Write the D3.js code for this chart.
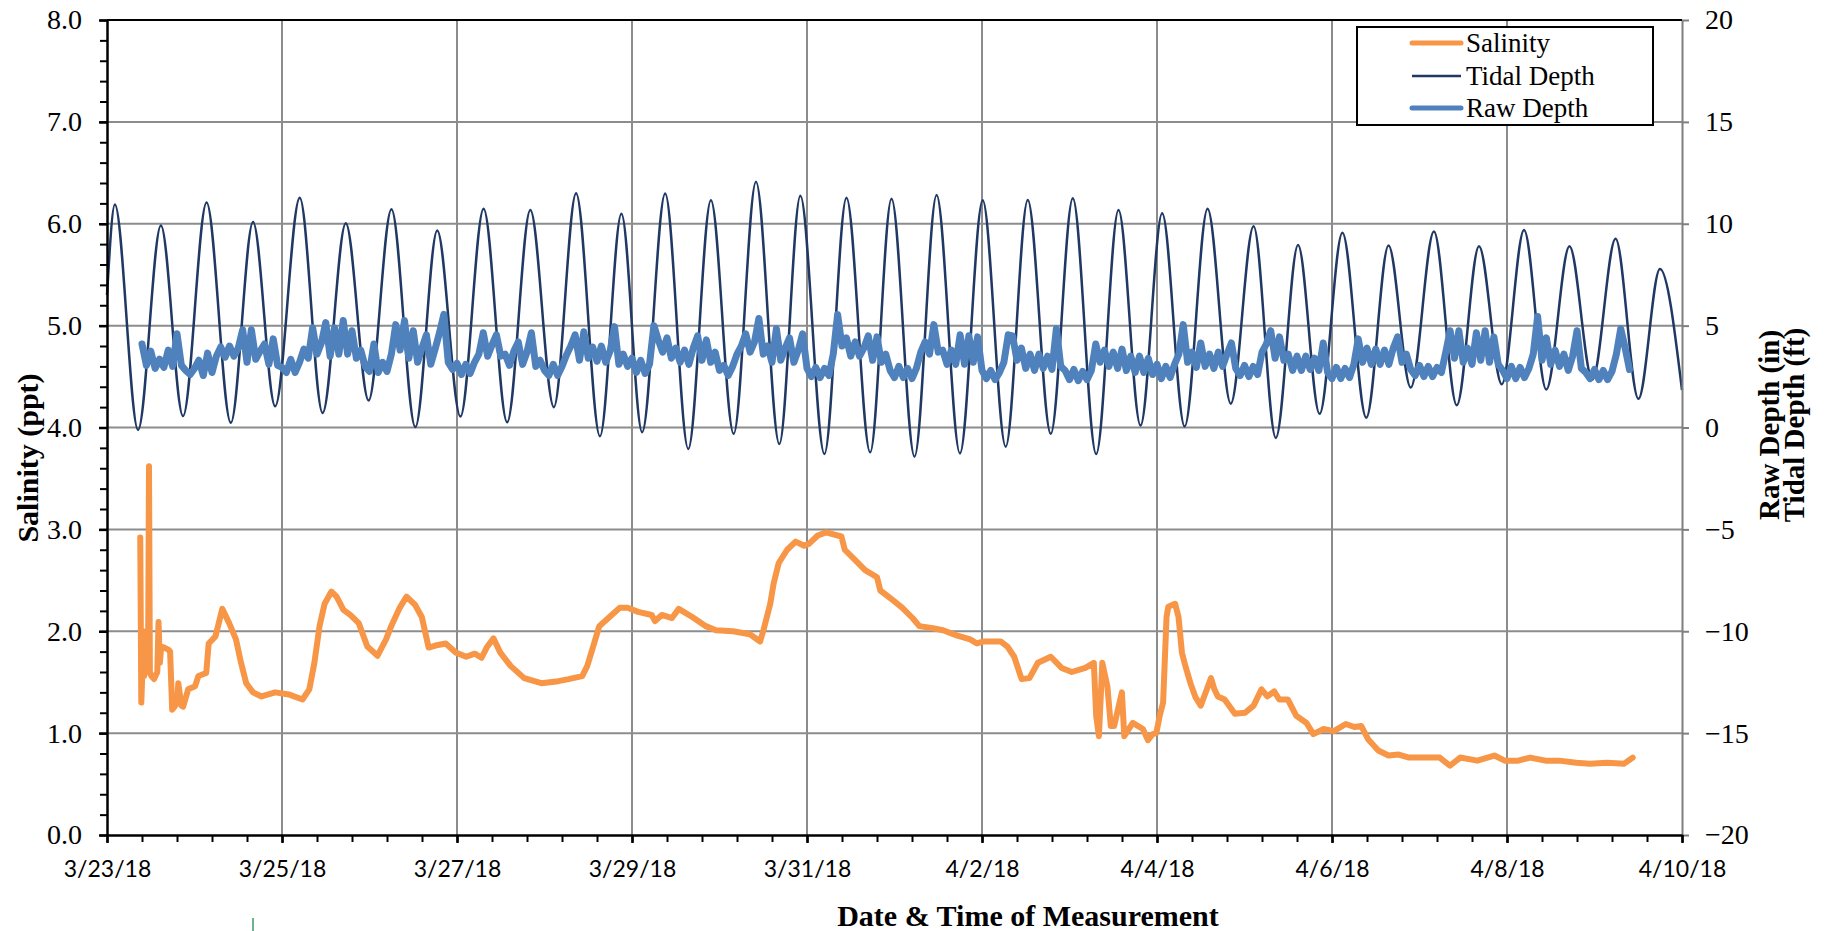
<!DOCTYPE html>
<html><head><meta charset="utf-8">
<script src="https://cdn.jsdelivr.net/npm/d3@7"></script>
<style>body{margin:0;background:#fff;} svg{display:block;}</style>
</head><body>
<svg id="chart" width="1827" height="931"></svg>
<script>
// ---------------- DATA ----------------
// times are in days since 3/23/18 00:00
const xTickDays = [0,2,4,6,8,10,12,14,16,18];
const xTickLabels = ["3/23/18","3/25/18","3/27/18","3/29/18","3/31/18","4/2/18","4/4/18","4/6/18","4/8/18","4/10/18"];
const yLeftTicks = [0,1,2,3,4,5,6,7,8];
const yRightTicks = [-20,-15,-10,-5,0,5,10,15,20];
const seriesNames = ["Salinity","Tidal Depth","Raw Depth"];

// Tidal depth (ft): highs and lows
const tideDays = [0,0.09,0.355,0.616,0.869,1.138,1.415,1.669,1.922,2.203,2.464,2.729,2.990,3.251,3.524,3.774,4.039,4.304,4.573,4.838,5.107,5.361,5.634,5.879,6.116,6.379,6.643,6.902,7.162,7.417,7.684,7.924,8.199,8.451,8.722,8.966,9.229,9.481,9.748,10.008,10.271,10.523,10.786,11.038,11.305,11.560,11.812,12.059,12.316,12.578,12.843,13.104,13.358,13.612,13.858,14.119,14.392,14.646,14.900,15.165,15.426,15.680,15.941,16.195,16.449,16.714,16.976,17.241,17.502,17.748,18.0];
const tideFt = [6.5,10.95,-0.12,9.92,0.56,11.04,0.23,10.08,1.04,11.27,0.71,10.02,1.33,10.71,0.02,9.67,0.54,10.74,0.26,10.67,1.0,11.5,-0.43,10.49,-0.23,11.48,-1.05,11.15,-0.31,12.06,-0.81,11.37,-1.30,11.28,-1.22,11.23,-1.43,11.41,-1.27,11.15,-0.94,11.17,-0.31,11.25,-1.30,10.67,0.10,10.51,0.05,10.74,1.17,9.88,-0.51,8.96,0.67,9.56,0.48,8.93,1.96,9.62,1.09,8.90,2.12,9.69,1.86,8.90,2.35,9.26,1.41,7.78,1.83];

// Raw depth (in): one reading every 0.05 day from day 0.40
const rawStartDay = 0.40;
const rawStepDay = 0.05;
const rawDepthIn = [
 4.10,3.05,3.75,2.90,3.35,2.95,3.80,3.00,4.60,3.05,2.80,2.60,2.90,3.30,2.55,3.65,2.70,3.50,3.95,3.45,
 4.00,3.50,3.90,4.80,3.20,4.80,3.35,3.75,4.10,3.10,4.35,3.05,2.95,2.70,3.35,2.70,3.20,3.85,3.40,4.90,
 3.60,4.15,5.15,3.50,4.90,3.60,5.25,3.60,4.75,3.40,3.80,3.00,2.75,4.10,2.70,3.20,2.75,3.60,5.05,3.80,
 5.25,3.40,4.75,3.20,3.90,4.55,3.10,3.85,4.65,5.55,3.20,2.85,3.15,2.60,3.10,2.65,3.20,3.60,4.65,3.50,
 4.05,4.55,3.50,3.60,3.05,3.75,4.20,3.10,3.70,4.65,3.00,3.30,2.80,2.55,3.10,2.55,3.00,3.55,4.00,4.55,
 3.30,4.70,3.40,3.95,3.25,4.00,3.20,3.75,4.95,3.10,3.60,3.00,3.40,2.70,3.30,2.65,3.10,5.00,4.30,3.70,
 4.40,3.40,3.90,3.20,3.80,3.10,3.90,4.50,3.30,4.30,3.20,3.70,2.80,3.05,2.55,3.00,3.60,4.00,4.60,3.70,
 4.20,5.35,3.60,4.00,3.20,4.85,3.30,3.90,4.40,3.20,3.80,4.60,2.90,2.50,2.95,2.45,2.90,2.55,3.60,5.55,
 4.00,4.40,3.50,4.20,3.50,3.90,4.50,3.30,4.45,3.20,3.60,2.80,2.45,3.00,2.45,2.90,2.40,2.90,3.70,4.20,
 3.60,5.05,3.70,3.80,3.10,3.80,3.10,4.55,3.10,4.50,3.20,4.45,2.80,2.40,2.80,2.35,2.70,3.20,4.55,4.50,
 3.30,3.90,2.90,3.60,2.80,3.60,2.90,3.50,2.85,4.85,3.00,2.80,2.35,2.85,2.30,2.75,2.35,2.80,4.10,3.20,
 3.80,3.00,3.70,2.90,3.85,2.80,3.50,2.70,3.50,2.70,3.40,2.60,3.10,2.40,3.00,2.45,3.10,3.60,5.05,3.20,
 3.70,2.95,4.15,3.00,3.60,2.90,3.70,3.00,3.60,4.15,2.90,2.55,3.05,2.50,3.00,2.60,3.70,4.10,4.75,3.40,
 4.45,3.30,3.60,2.80,3.50,2.80,3.50,2.85,3.40,2.80,4.15,2.70,2.40,2.95,2.40,2.90,2.45,3.10,4.35,3.20,
 3.90,3.10,3.85,3.10,3.80,3.10,3.90,4.45,3.20,3.60,2.85,2.55,3.05,2.50,3.00,2.50,2.95,2.70,3.70,4.75,
 3.40,4.75,3.20,3.90,3.10,4.65,3.30,4.75,3.20,4.45,3.10,2.80,2.40,3.00,2.40,2.95,2.45,2.90,3.60,5.45,
 3.30,4.40,3.10,3.80,3.00,3.60,2.80,3.50,4.75,2.90,2.70,2.40,2.85,2.35,2.80,2.35,2.75,3.60,4.85,3.90,
 2.85
];

// Salinity (ppt): [day, value]
const salinityPoints = [[0.380,2.92],[0.392,1.30],[0.405,1.62],[0.413,2.00],[0.425,1.56],[0.440,1.62],[0.470,1.80],[0.480,3.62],[0.490,1.60],[0.507,1.56],[0.538,1.53],[0.575,1.60],[0.589,2.09],[0.604,1.69],[0.620,1.85],[0.655,1.84],[0.700,1.82],[0.721,1.80],[0.745,1.23],[0.772,1.26],[0.800,1.30],[0.815,1.49],[0.850,1.27],[0.870,1.26],[0.928,1.43],[1.006,1.46],[1.045,1.56],[1.134,1.59],[1.162,1.88],[1.240,1.95],[1.318,2.22],[1.396,2.08],[1.474,1.92],[1.532,1.69],[1.591,1.49],[1.669,1.40],[1.766,1.36],[1.922,1.40],[2.078,1.38],[2.234,1.33],[2.312,1.43],[2.370,1.69],[2.429,2.05],[2.487,2.27],[2.565,2.39],[2.624,2.34],[2.702,2.21],[2.780,2.16],[2.877,2.08],[2.975,1.85],[3.092,1.76],[3.189,1.92],[3.248,2.05],[3.345,2.23],[3.423,2.34],[3.520,2.26],[3.598,2.14],[3.676,1.84],[3.754,1.86],[3.871,1.88],[3.988,1.79],[4.105,1.75],[4.203,1.78],[4.281,1.74],[4.339,1.84],[4.417,1.93],[4.495,1.79],[4.612,1.66],[4.768,1.54],[4.963,1.49],[5.158,1.51],[5.275,1.53],[5.431,1.56],[5.489,1.66],[5.567,1.88],[5.626,2.05],[5.743,2.14],[5.860,2.23],[5.950,2.23],[6.070,2.19],[6.225,2.16],[6.263,2.10],[6.341,2.16],[6.457,2.13],[6.534,2.22],[6.689,2.14],[6.844,2.05],[6.960,2.01],[7.154,2.00],[7.348,1.97],[7.464,1.90],[7.502,2.01],[7.580,2.27],[7.619,2.47],[7.677,2.67],[7.773,2.80],[7.870,2.88],[7.967,2.84],[8.025,2.86],[8.122,2.94],[8.219,2.97],[8.393,2.93],[8.432,2.80],[8.548,2.70],[8.664,2.60],[8.800,2.53],[8.838,2.40],[8.974,2.31],[9.090,2.23],[9.206,2.13],[9.284,2.05],[9.439,2.03],[9.555,2.01],[9.710,1.96],[9.865,1.92],[9.942,1.88],[10.019,1.90],[10.213,1.90],[10.290,1.85],[10.368,1.75],[10.453,1.53],[10.542,1.54],[10.639,1.69],[10.786,1.75],[10.910,1.64],[11.026,1.60],[11.181,1.64],[11.278,1.69],[11.305,1.17],[11.336,0.97],[11.375,1.69],[11.433,1.46],[11.472,1.07],[11.510,1.07],[11.599,1.40],[11.626,0.97],[11.723,1.10],[11.839,1.04],[11.897,0.93],[11.950,0.99],[11.992,1.00],[12.031,1.17],[12.070,1.30],[12.109,2.14],[12.129,2.24],[12.207,2.27],[12.246,2.14],[12.285,1.79],[12.324,1.66],[12.382,1.49],[12.441,1.35],[12.500,1.27],[12.539,1.36],[12.617,1.54],[12.656,1.43],[12.695,1.36],[12.773,1.33],[12.890,1.19],[13.007,1.20],[13.104,1.27],[13.194,1.43],[13.261,1.36],[13.339,1.41],[13.397,1.33],[13.495,1.33],[13.592,1.17],[13.709,1.10],[13.787,0.99],[13.904,1.04],[14.021,1.02],[14.158,1.09],[14.256,1.06],[14.334,1.07],[14.412,0.94],[14.529,0.83],[14.646,0.78],[14.763,0.79],[14.880,0.76],[15.036,0.76],[15.231,0.76],[15.348,0.68],[15.465,0.76],[15.660,0.73],[15.856,0.78],[15.973,0.73],[16.129,0.73],[16.265,0.76],[16.441,0.73],[16.597,0.73],[16.792,0.71],[16.948,0.70],[17.143,0.71],[17.339,0.70],[17.436,0.76]];

// ---------------- CHART ----------------
const X0 = 107, X1 = 1682, Y0 = 20, Y1 = 835;
const t0 = Date.UTC(2018, 2, 23);
const dayToDate = d => new Date(t0 + d * 86400000);
const x = d3.scaleUtc().domain([dayToDate(0), dayToDate(18)]).range([X0, X1]);
const yL = d3.scaleLinear().domain([0, 8]).range([Y1, Y0]);
const yR = d3.scaleLinear().domain([-20, 20]).range([Y1, Y0]);

const COL_SAL = "#f79646", COL_TIDE = "#1f3864", COL_RAW = "#4f81bd", COL_GRID = "#8c8c8c";
const SERIF = "'Liberation Serif','Times New Roman',serif";
const SANS = "Lato,'Open Sans',sans-serif";

const svg = d3.select("#chart");
svg.append("rect").attr("width", 1827).attr("height", 931).attr("fill", "#fff");

// gridlines
const grid = svg.append("g");
grid.selectAll("line.h").data(yLeftTicks.filter(v => v > 0 && v < 8)).join("line")
  .attr("x1", X0).attr("x2", X1).attr("y1", d => yL(d)).attr("y2", d => yL(d))
  .attr("stroke", COL_GRID).attr("stroke-width", 2);
grid.selectAll("line.v").data(xTickDays.filter(v => v > 0 && v < 18)).join("line")
  .attr("y1", Y0).attr("y2", Y1).attr("x1", d => x(dayToDate(d))).attr("x2", d => x(dayToDate(d)))
  .attr("stroke", COL_GRID).attr("stroke-width", 2);

// series
const salLine = d3.line().x(d => x(dayToDate(d[0]))).y(d => yL(d[1]));
svg.append("path").datum(salinityPoints).attr("d", salLine)
  .attr("fill", "none").attr("stroke", COL_SAL).attr("stroke-width", 6)
  .attr("stroke-linejoin", "round").attr("stroke-linecap", "round");

const tideLine = d3.line().curve(d3.curveMonotoneX)
  .x((d, i) => x(dayToDate(tideDays[i]))).y(d => yR(d));
svg.append("path").datum(tideFt).attr("d", tideLine)
  .attr("fill", "none").attr("stroke", COL_TIDE).attr("stroke-width", 2.5);

const rawLine = d3.line()
  .x((d, i) => x(dayToDate(rawStartDay + i * rawStepDay))).y(d => yR(d));
svg.append("path").datum(rawDepthIn).attr("d", rawLine)
  .attr("fill", "none").attr("stroke", COL_RAW).attr("stroke-width", 7)
  .attr("stroke-linejoin", "round").attr("stroke-linecap", "round");

// top border
svg.append("line").attr("x1", X0).attr("x2", X1).attr("y1", Y0).attr("y2", Y0)
  .attr("stroke", "#000").attr("stroke-width", 2);

// left axis
const minorL = d3.range(0, 41).map(i => i * 0.2);
svg.append("g").attr("transform", `translate(${X0},0)`)
  .call(d3.axisLeft(yL).tickValues(minorL).tickSize(7).tickSizeOuter(0).tickFormat(""))
  .call(g => { g.select(".domain").attr("stroke", "#000").attr("stroke-width", 2.5);
               g.selectAll(".tick line").attr("stroke", "#000").attr("stroke-width", 2); });
svg.append("g").attr("transform", `translate(${X0},0)`)
  .call(d3.axisLeft(yL).tickValues(yLeftTicks).tickSize(8).tickPadding(17).tickSizeOuter(0).tickFormat(d3.format(".1f")))
  .call(g => { g.select(".domain").remove();
               g.selectAll(".tick line").attr("stroke", "#000").attr("stroke-width", 2.5);
               g.selectAll(".tick text").attr("font-family", SERIF).attr("font-size", 28).attr("fill", "#000"); });

// right axis
svg.append("g").attr("transform", `translate(${X1},0)`)
  .call(d3.axisRight(yR).tickValues(yRightTicks).tickSize(7).tickPadding(16).tickSizeOuter(0))
  .call(g => { g.select(".domain").attr("stroke", "#7f7f7f").attr("stroke-width", 2);
               g.selectAll(".tick line").attr("stroke", "#7f7f7f").attr("stroke-width", 2);
               g.selectAll(".tick text").attr("font-family", SERIF).attr("font-size", 28).attr("fill", "#000"); });

// bottom axis
const minorX = d3.range(0, 46).map(i => dayToDate(i * 0.4));
svg.append("g").attr("transform", `translate(0,${Y1})`)
  .call(d3.axisBottom(x).tickValues(minorX).tickSize(7).tickSizeOuter(0).tickFormat(""))
  .call(g => { g.select(".domain").attr("stroke", "#000").attr("stroke-width", 2.5);
               g.selectAll(".tick line").attr("stroke", "#000").attr("stroke-width", 2); });
svg.append("g").attr("transform", `translate(0,${Y1})`)
  .call(d3.axisBottom(x).tickValues(xTickDays.map(dayToDate)).tickSize(8).tickSizeOuter(0)
        .tickFormat((d, i) => xTickLabels[i]))
  .call(g => { g.select(".domain").remove();
               g.selectAll(".tick line").attr("stroke", "#000").attr("stroke-width", 2.5);
               g.selectAll(".tick text").attr("font-family", SANS).attr("font-size", 23)
                 .attr("fill", "#000").attr("y", 42).attr("dy", 0); });

// axis titles
svg.append("text").attr("x", 1028).attr("y", 926).attr("text-anchor", "middle")
  .attr("font-family", SERIF).attr("font-weight", "bold").attr("font-size", 30)
  .text("Date & Time of Measurement");
svg.append("text").attr("transform", "translate(38,458) rotate(-90)").attr("text-anchor", "middle")
  .attr("font-family", SERIF).attr("font-weight", "bold").attr("font-size", 30)
  .text("Salinity (ppt)");
svg.append("text").attr("transform", "translate(1779,425) rotate(-90)").attr("text-anchor", "middle")
  .attr("font-family", SERIF).attr("font-weight", "bold").attr("font-size", 29)
  .text("Raw Depth (in)");
svg.append("text").attr("transform", "translate(1804,425) rotate(-90)").attr("text-anchor", "middle")
  .attr("font-family", SERIF).attr("font-weight", "bold").attr("font-size", 29)
  .text("Tidal Depth (ft)");

// legend
const lg = svg.append("g");
lg.append("rect").attr("x", 1357).attr("y", 27).attr("width", 296).attr("height", 98)
  .attr("fill", "#fff").attr("stroke", "#000").attr("stroke-width", 2);
const legendRows = [
  {name: seriesNames[0], color: COL_SAL, w: 5, y: 43},
  {name: seriesNames[1], color: COL_TIDE, w: 2.5, y: 76},
  {name: seriesNames[2], color: COL_RAW, w: 5, y: 108}
];
legendRows.forEach(r => {
  lg.append("line").attr("x1", 1412).attr("x2", 1461).attr("y1", r.y).attr("y2", r.y)
    .attr("stroke", r.color).attr("stroke-width", r.w).attr("stroke-linecap", r.w > 3 ? "round" : "butt");
  lg.append("text").attr("x", 1466).attr("y", r.y + 9).attr("font-family", SERIF)
    .attr("font-size", 27).attr("fill", "#000").text(r.name);
});

// stray mark at bottom of original image
svg.append("line").attr("x1", 253).attr("x2", 253).attr("y1", 918).attr("y2", 931)
  .attr("stroke", "#3c9a6c").attr("stroke-width", 1.5);
</script>
</body></html>
